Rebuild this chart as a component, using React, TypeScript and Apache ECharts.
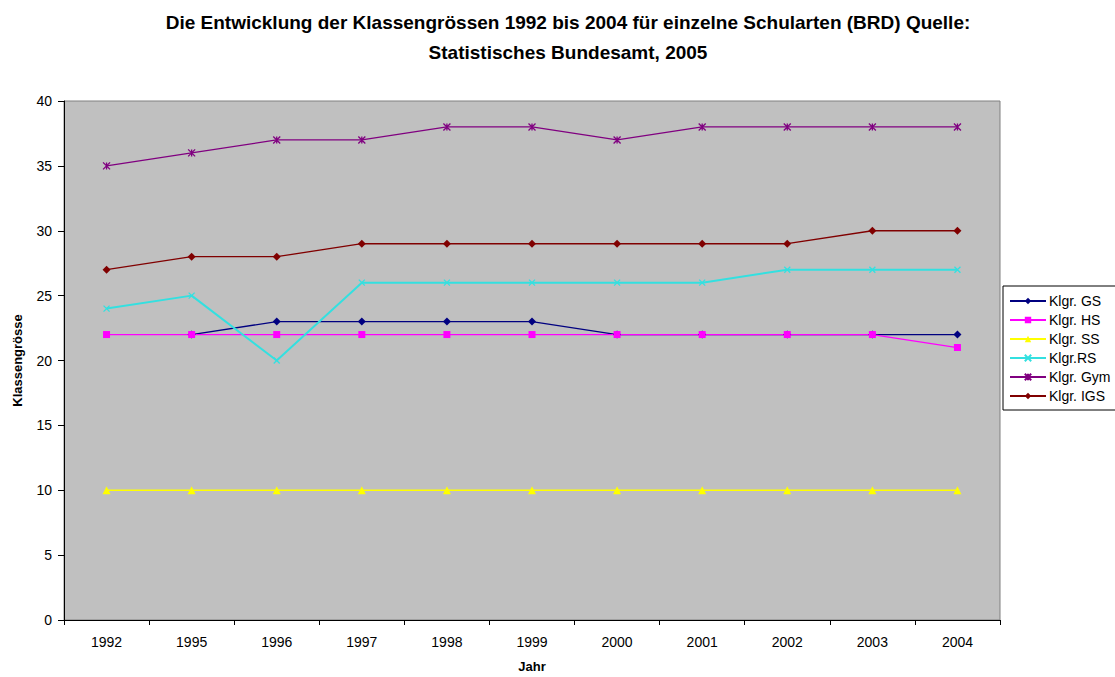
import React, { useEffect, useRef } from "react";
import * as echarts from "echarts";

const years = ["1992", "1995", "1996", "1997", "1998", "1999", "2000", "2001", "2002", "2003", "2004"];
const klgrGS = [null, 22, 23, 23, 23, 23, 22, 22, 22, 22, 22];
const klgrHS = [22, 22, 22, 22, 22, 22, 22, 22, 22, 22, 21];
const klgrSS = [10, 10, 10, 10, 10, 10, 10, 10, 10, 10, 10];
const klgrRS = [24, 25, 20, 26, 26, 26, 26, 26, 27, 27, 27];
const klgrGym = [35, 36, 37, 37, 38, 38, 37, 38, 38, 38, 38];
const klgrIGS = [27, 28, 28, 29, 29, 29, 29, 29, 29, 30, 30];

const crossPath = "path://M0,0L10,10M10,0L0,10";
const asteriskPath = "path://M0,0L10,10M10,0L0,10M5,0L5,10";

export default function App() {
  const ref = useRef<HTMLDivElement>(null);
  useEffect(() => {
    document.body.style.margin = "0";
    const chart = echarts.init(ref.current!, null, { renderer: "svg" });
    const font = "Liberation Sans, Arial, sans-serif";
    const mk = (name: string, data: any[], color: string, symbol: string, size: number, width = 1.3, stroke = false) => ({
      name,
      type: "line",
      data,
      symbol,
      symbolSize: size,
      connectNulls: false,
      lineStyle: { color, width },
      itemStyle: stroke
        ? { color: "transparent", borderColor: color, borderWidth: 1.3 }
        : { color, borderColor: color, borderWidth: 0 },
      emphasis: { disabled: true },
    });
    chart.setOption({
      animation: false,
      backgroundColor: "#ffffff",
      textStyle: { fontFamily: font },
      title: {
        text: "Die Entwicklung der Klassengrössen 1992 bis 2004 für einzelne Schularten (BRD) Quelle:\nStatistisches Bundesamt, 2005",
        left: 563,
        textAlign: "center",
        top: 2,
        textStyle: { fontSize: 19, fontWeight: "bold", color: "#000", lineHeight: 30, fontFamily: font },
      },
      legend: {
        orient: "vertical",
        left: 1003,
        top: 286,
        itemWidth: 36,
        itemHeight: 8,
        itemGap: 5,
        padding: [8, 8, 7, 6],
        borderColor: "#000",
        borderWidth: 1,
        backgroundColor: "#fff",
        textStyle: { fontSize: 14, color: "#000", fontFamily: font, padding: [0, 0, 0, -2] },
        data: ["Klgr. GS", "Klgr. HS", "Klgr. SS", "Klgr.RS", "Klgr. Gym", "Klgr. IGS"],
      },
      grid: {
        left: 64,
        top: 101,
        right: 115,
        bottom: 57,
        outerBoundsMode: "none",
        containLabel: false,
        show: true,
        backgroundColor: "#C0C0C0",
        borderColor: "#808080",
        borderWidth: 1,
      },
      xAxis: {
        type: "category",
        data: years,
        boundaryGap: true,
        name: "Jahr",
        nameLocation: "middle",
        nameGap: 40,
        nameTextStyle: { fontSize: 13, fontWeight: "bold", color: "#000", fontFamily: font },
        axisLine: { lineStyle: { color: "#000", width: 1 } },
        axisTick: { show: true, interval: 0, length: 5, lineStyle: { color: "#000" } },
        axisLabel: { fontSize: 14, color: "#000", margin: 15, fontFamily: font },
        splitLine: { show: false },
      },
      yAxis: {
        type: "value",
        min: 0,
        max: 40,
        interval: 5,
        name: "Klassengrösse",
        nameLocation: "middle",
        nameGap: 40,
        nameRotate: 90,
        nameTextStyle: { fontSize: 13, fontWeight: "bold", color: "#000", fontFamily: font },
        axisLine: { show: true, lineStyle: { color: "#000", width: 1 } },
        axisTick: { show: true, length: 6, lineStyle: { color: "#000" } },
        axisLabel: { fontSize: 14, color: "#000", margin: 12, fontFamily: font },
        splitLine: { show: false },
      },
      series: [
        mk("Klgr. GS", klgrGS, "#000080", "diamond", 8),
        mk("Klgr. HS", klgrHS, "#FF00FF", "rect", 7),
        mk("Klgr. SS", klgrSS, "#FFFF00", "triangle", 8),
        mk("Klgr.RS", klgrRS, "#33E0E0", crossPath, 6, 2, true),
        mk("Klgr. Gym", klgrGym, "#800080", asteriskPath, 7, 1.3, true),
        mk("Klgr. IGS", klgrIGS, "#800000", "diamond", 8),
      ],
    });
    return () => chart.dispose();
  }, []);
  return <div ref={ref} style={{ width: 1115, height: 677 }} />;
}
